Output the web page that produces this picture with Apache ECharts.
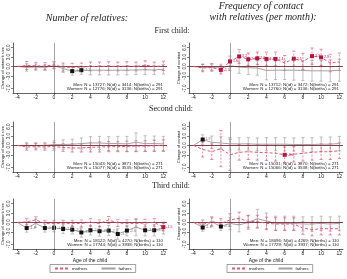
<!DOCTYPE html>
<html>
<head>
<meta charset="utf-8">
<script src="https://cdn.jsdelivr.net/npm/echarts@6/dist/echarts.min.js"></script>
<style>
html, body { margin: 0; padding: 0; background: #fff; }
#main { width: 347px; height: 279px; }
</style>
</head>
<body>
<div id="main"></div>
<script>
// age of the child, -4 is the reference year
var ages = [-4, -3, -2, -1, 0, 1, 2, 3, 4, 5, 6, 7, 8, 9, 10, 11, 12];
var xTicks = [-4, -2, 0, 2, 4, 6, 8, 10, 12];
var yTicks = [6, 3, 0, -3, -7];

// first child, number of relatives
var relFirstMothers    = [0, 0.3, 0.2, 0.1, 0.5, -0.2, -0.3, -0.2, 0.0, 0.0, 0.1, 0.0, 0.1, 0.0, 0.4, 0.0, 0.2];
var relFirstMothersErr = [null, 1.3, 1.1, 1.1, 1.1, 1.3, 1.3, 1.3, 1.4, 1.4, 1.4, 1.4, 1.4, 1.4, 1.4, 1.4, 1.5];
var relFirstMothersSig = [];
var relFirstFathers    = [0, -0.3, -0.2, -0.3, 0.2, -0.7, -1.5, -1.2, -1.2, -1.2, -1.2, -1.2, -1.2, -1.1, -1.1, -1.1, -0.9];
var relFirstFathersErr = [null, 1.2, 1.0, 1.0, 1.0, 1.2, 1.3, 1.3, 1.5, 1.5, 1.5, 1.5, 1.5, 1.5, 1.5, 1.5, 1.5];
var relFirstFathersSig = [2, 3];

// first child, contact
var conFirstMothers    = [0, -0.5, -0.3, -1.1, 1.6, 3.2, 2.3, 2.6, 2.4, 2.4, 1.1, 2.5, 1.6, 3.3, 2.9, 1.1, 1.5];
var conFirstMothersErr = [null, 1.2, 1.2, 1.3, 1.7, 2.2, 2.0, 2.0, 2.2, 2.2, 2.4, 2.4, 2.6, 2.6, 2.6, 2.8, 2.8];
var conFirstMothersSig = [-1, 0, 1, 2, 3, 4, 5, 7, 9, 10];
var conFirstFathers    = [0, -0.3, -0.3, -0.5, 0.2, -0.2, -0.4, -0.5, -1.3, -1.2, -1.2, -1.2, -1.3, -1.4, -1.4, -1.4, -1.2];
var conFirstFathersErr = [null, 1.0, 1.0, 1.2, 1.5, 2.0, 2.2, 2.3, 3.0, 3.0, 3.0, 3.2, 3.2, 3.3, 3.3, 3.5, 3.5];
var conFirstFathersSig = [];

// second child, number of relatives
var relSecondMothers    = [0, -0.5, -0.4, -0.5, -0.3, -0.7, -0.8, -0.8, -0.6, -0.5, -0.4, -0.4, -0.3, -0.2, -0.2, -0.1, 0.0];
var relSecondMothersErr = [null, 1.0, 1.0, 1.0, 1.2, 1.2, 1.3, 1.3, 1.5, 1.6, 1.6, 1.6, 1.7, 1.7, 1.7, 1.8, 1.8];
var relSecondMothersSig = [];
var relSecondFathers    = [0, 0.0, 0.0, 0.0, 0.3, 0.3, 0.4, 0.6, 0.8, 0.8, 0.6, 0.6, 0.5, 1.0, 0.6, 0.6, 0.5];
var relSecondFathersErr = [null, 0.9, 0.9, 0.9, 1.2, 1.5, 1.6, 1.8, 2.0, 2.1, 2.2, 2.3, 2.4, 3.0, 2.5, 2.4, 2.4];
var relSecondFathersSig = [];

// second child, contact
var conSecondMothers    = [0, -1.3, -2.0, -1.0, -3.0, -2.2, -2.0, -2.2, -2.3, -2.5, -3.0, -2.8, -2.5, -2.2, -2.0, -2.0, -1.7];
var conSecondMothersErr = [null, 2.4, 2.5, 5.8, 5.0, 2.5, 2.5, 2.5, 2.5, 2.5, 2.5, 2.5, 2.5, 2.5, 2.5, 2.5, 2.5];
var conSecondMothersSig = [6];
var conSecondFathers    = [0, 1.9, 1.0, 0.8, 0.5, 0.5, 0.5, 0.4, 0.4, 0.4, 0.4, 0.3, 0.3, 0.3, 0.4, 0.4, 0.6];
var conSecondFathersErr = [null, 1.5, 2.0, 2.0, 2.0, 2.0, 2.0, 2.0, 2.1, 2.1, 2.1, 2.1, 2.2, 2.2, 2.3, 2.3, 2.3];
var conSecondFathersSig = [-3];

// third child, number of relatives
var relThirdMothers    = [0, 0.2, 0.8, -0.3, -0.3, -0.3, -0.3, -0.3, 0.0, -0.3, 0.8, -0.2, -0.3, -0.3, -0.2, 0.0, -1.5];
var relThirdMothersErr = [null, 1.0, 1.0, 1.0, 1.0, 1.0, 1.0, 1.1, 1.2, 1.1, 1.1, 1.1, 1.1, 1.2, 1.2, 1.2, 1.2];
var relThirdMothersSig = [12];
var relThirdFathers    = [0, -1.8, -0.3, -1.8, -1.7, -2.1, -2.3, -3.2, -2.5, -2.8, -2.6, -3.7, -2.6, -1.5, -2.5, -2.5, -1.8];
var relThirdFathersErr = [null, 1.3, 1.3, 1.3, 1.3, 1.4, 1.4, 1.5, 1.5, 1.6, 1.6, 1.7, 1.7, 2.8, 1.8, 1.8, 1.9];
var relThirdFathersSig = [-3, -1, 0, 1, 2, 3, 4, 5, 6, 7, 8, 10, 11];

// third child, contact
var conThirdMothers    = [0, -0.7, 0.3, -0.3, 0.8, 1.3, 0.3, 0.3, -0.3, -0.5, -0.5, -0.5, -1.8, -2.3, -2.0, -2.0, -2.0];
var conThirdMothersErr = [null, 1.5, 1.5, 1.5, 2.0, 2.0, 2.0, 2.0, 2.0, 2.0, 2.0, 2.0, 2.0, 2.0, 2.0, 2.0, 2.0];
var conThirdMothersSig = [];
var conThirdFathers    = [0, -1.6, 0.2, -1.3, -0.3, -0.8, 0.0, 1.2, 0.5, -0.3, -0.3, -0.3, -0.5, -0.5, -0.3, -0.5, -0.3];
var conThirdFathersErr = [null, 1.2, 1.3, 1.3, 2.0, 2.2, 2.2, 3.0, 2.5, 2.3, 2.3, 2.3, 2.3, 2.3, 2.3, 2.3, 2.3];
var conThirdFathersSig = [-3, -1];

var menNotes = [
    'Men: N = 13727; N(id) = 3414; N(births) = 291',
    'Men: N = 13712; N(id) = 3472; N(births) = 291',
    'Men: N = 15043; N(id) = 3871; N(births) = 271',
    'Men: N = 15031; N(id) = 3870; N(births) = 271',
    'Men: N = 18122; N(id) = 4270; N(births) = 110',
    'Men: N = 18096; N(id) = 4269; N(births) = 110'
];
var womenNotes = [
    'Women: N = 12776; N(id) = 3136; N(births) = 291',
    'Women: N = 12760; N(id) = 3136; N(births) = 291',
    'Women: N = 15077; N(id) = 3535; N(births) = 271',
    'Women: N = 15066; N(id) = 3538; N(births) = 271',
    'Women: N = 17744; N(id) = 3938; N(births) = 110',
    'Women: N = 17729; N(id) = 3937; N(births) = 110'
];

var panels = [
    [relFirstMothers, relFirstMothersErr, relFirstMothersSig, relFirstFathers, relFirstFathersErr, relFirstFathersSig],
    [conFirstMothers, conFirstMothersErr, conFirstMothersSig, conFirstFathers, conFirstFathersErr, conFirstFathersSig],
    [relSecondMothers, relSecondMothersErr, relSecondMothersSig, relSecondFathers, relSecondFathersErr, relSecondFathersSig],
    [conSecondMothers, conSecondMothersErr, conSecondMothersSig, conSecondFathers, conSecondFathersErr, conSecondFathersSig],
    [relThirdMothers, relThirdMothersErr, relThirdMothersSig, relThirdFathers, relThirdFathersErr, relThirdFathersSig],
    [conThirdMothers, conThirdMothersErr, conThirdMothersSig, conThirdFathers, conThirdFathersErr, conThirdFathersSig]
];

var MOTHER_LINE = '#de5a78';
var MOTHER_MARK = '#b8123f';
var FATHER_LINE = '#a3a3a3';
var FATHER_MARK = '#111111';

var colLeft = [13, 189];
var rowTop = [43, 122, 199];
var gridW = 154, gridH = 50;

function errorBar(color, dash) {
    return function (params, api) {
        var x = api.value(0);
        var lo = api.coord([x, api.value(1)]);
        var hi = api.coord([x, api.value(2)]);
        var cap = 1.6;
        return {
            type: 'group',
            children: [
                { type: 'line', shape: { x1: lo[0], y1: lo[1], x2: hi[0], y2: hi[1] },
                  style: { stroke: color, lineWidth: 0.7, lineDash: dash } },
                { type: 'line', shape: { x1: hi[0] - cap, y1: hi[1], x2: hi[0] + cap, y2: hi[1] },
                  style: { stroke: color, lineWidth: 0.7 } },
                { type: 'line', shape: { x1: lo[0] - cap, y1: lo[1], x2: lo[0] + cap, y2: lo[1] },
                  style: { stroke: color, lineWidth: 0.7 } }
            ]
        };
    };
}

function barData(vals, errs) {
    var out = [];
    ages.forEach(function (a, i) {
        if (errs[i] != null) out.push([a, vals[i] - errs[i], vals[i] + errs[i]]);
    });
    return out;
}

function lineData(vals, sig, labelColor) {
    return ages.map(function (a, i) {
        var on = sig.indexOf(a) >= 0;
        return {
            value: [a, vals[i]],
            symbol: on ? 'rect' : 'none',
            label: { show: on, position: 'right', distance: 1, fontSize: 3.5, color: labelColor,
                     formatter: vals[i].toFixed(1) }
        };
    });
}

var grids = [], xAxes = [], yAxes = [], lines = [], bars = [], graphics = [];

panels.forEach(function (p, k) {
    var col = k % 2, row = Math.floor(k / 2);
    grids.push({ left: colLeft[col], top: rowTop[row], width: gridW, height: gridH });
    xAxes.push({
        gridIndex: k, type: 'value', min: -4.5, max: 12.4,
        name: row === 2 ? 'Age of the child' : '',
        nameLocation: 'middle', nameGap: 9,
        nameTextStyle: { fontSize: 5, color: '#222', fontFamily: 'Liberation Sans' },
        axisLine: { show: true, onZero: false, lineStyle: { color: '#222', width: 0.7 } },
        axisTick: { show: true, length: 2, customValues: xTicks, lineStyle: { color: '#222', width: 0.6 } },
        axisLabel: { customValues: xTicks, fontSize: 5, margin: 2.5, color: '#222', fontFamily: 'Liberation Sans' },
        splitLine: { show: false }
    });
    yAxes.push({
        gridIndex: k, type: 'value', min: -8.5, max: 7.5,
        name: col === 0 ? 'Change of network size' : 'Change of contact',
        nameLocation: 'middle', nameGap: 7,
        nameTextStyle: { fontSize: 4, color: '#222', fontFamily: 'Liberation Sans' },
        axisLine: { show: true, onZero: false, lineStyle: { color: '#222', width: 0.7 } },
        axisTick: { show: true, length: 2, customValues: yTicks, lineStyle: { color: '#222', width: 0.6 } },
        axisLabel: { customValues: yTicks, rotate: 90, fontSize: 4.5, margin: 2, color: '#222',
                     fontFamily: 'Liberation Sans', formatter: function (v) { return v.toFixed(1); } },
        splitLine: { show: false }
    });

    // line series go first so the legend takes its icons from them
    lines.push({
        type: 'line', name: 'mothers', xAxisIndex: k, yAxisIndex: k,
        symbol: 'rect', symbolSize: 4, showSymbol: true,
        lineStyle: { color: MOTHER_LINE, width: 1, type: [3, 2] }, itemStyle: { color: MOTHER_MARK },
        data: lineData(p[0], p[2], MOTHER_MARK), z: 5, silent: true
    });
    lines.push({
        type: 'line', name: 'fathers', xAxisIndex: k, yAxisIndex: k,
        symbol: 'rect', symbolSize: 4, showSymbol: true,
        lineStyle: { color: FATHER_LINE, width: 1 }, itemStyle: { color: FATHER_MARK },
        data: lineData(p[3], p[5], '#777'), z: 4, silent: true,
        markLine: {
            silent: true, symbol: 'none', label: { show: false },
            data: [
                { xAxis: 0, lineStyle: { color: '#9a9a9a', width: 0.9, type: 'solid' } },
                { yAxis: 0, lineStyle: { color: '#7b2a35', width: 0.9, type: 'solid' } }
            ]
        }
    });
    bars.push({
        type: 'custom', name: 'fathers', xAxisIndex: k, yAxisIndex: k,
        renderItem: errorBar(FATHER_LINE, null), data: barData(p[3], p[4]), z: 2, silent: true
    });
    bars.push({
        type: 'custom', name: 'mothers', xAxisIndex: k, yAxisIndex: k,
        renderItem: errorBar(MOTHER_LINE, [2, 1.5]), data: barData(p[0], p[1]), z: 3, silent: true
    });

    var right = colLeft[col] + gridW - 4;
    var bottom = rowTop[row] + gridH;
    graphics.push({ type: 'text', style: { text: menNotes[k], x: right, y: bottom - 8.5,
        textAlign: 'right', textVerticalAlign: 'middle', font: '4.4px "Liberation Sans"', fill: '#222' } });
    graphics.push({ type: 'text', style: { text: womenNotes[k], x: right, y: bottom - 3.8,
        textAlign: 'right', textVerticalAlign: 'middle', font: '4.4px "Liberation Sans"', fill: '#222' } });
});

function heading(text, x, y, font) {
    return { type: 'text', style: { text: text, x: x, y: y, textAlign: 'center', textVerticalAlign: 'middle',
        font: font, fill: '#222' } };
}
graphics.push(heading('Number of relatives:', 87, 18, 'italic 10px "Liberation Serif"'));
graphics.push(heading('Frequency of contact', 261, 6.5, 'italic 10px "Liberation Serif"'));
graphics.push(heading('with relatives (per month):', 263, 17.5, 'italic 10px "Liberation Serif"'));
graphics.push(heading('First child:', 172, 31, '8px "Liberation Serif"'));
graphics.push(heading('Second child:', 171, 109, '8px "Liberation Serif"'));
graphics.push(heading('Third child:', 171, 186, '8px "Liberation Serif"'));

function legendAt(left) {
    return {
        data: ['mothers', 'fathers'], left: left, top: 264.5, orient: 'horizontal',
        itemWidth: 14, itemHeight: 4, itemGap: 13,
        textStyle: { fontSize: 4.3, color: '#222', fontFamily: 'Liberation Sans', padding: [0, 0, 0, -2] },
        borderColor: '#777', borderWidth: 0.7, padding: [2, 4],
        itemStyle: { opacity: 0 }, selectedMode: false
    };
}

var myChart = echarts.init(document.getElementById('main'), null, { renderer: 'canvas' });
myChart.setOption({
    animation: false,
    backgroundColor: '#fff',
    grid: grids,
    xAxis: xAxes,
    yAxis: yAxes,
    legend: [legendAt(50), legendAt(227)],
    graphic: graphics,
    series: lines.concat(bars)
});
</script>
</body>
</html>
